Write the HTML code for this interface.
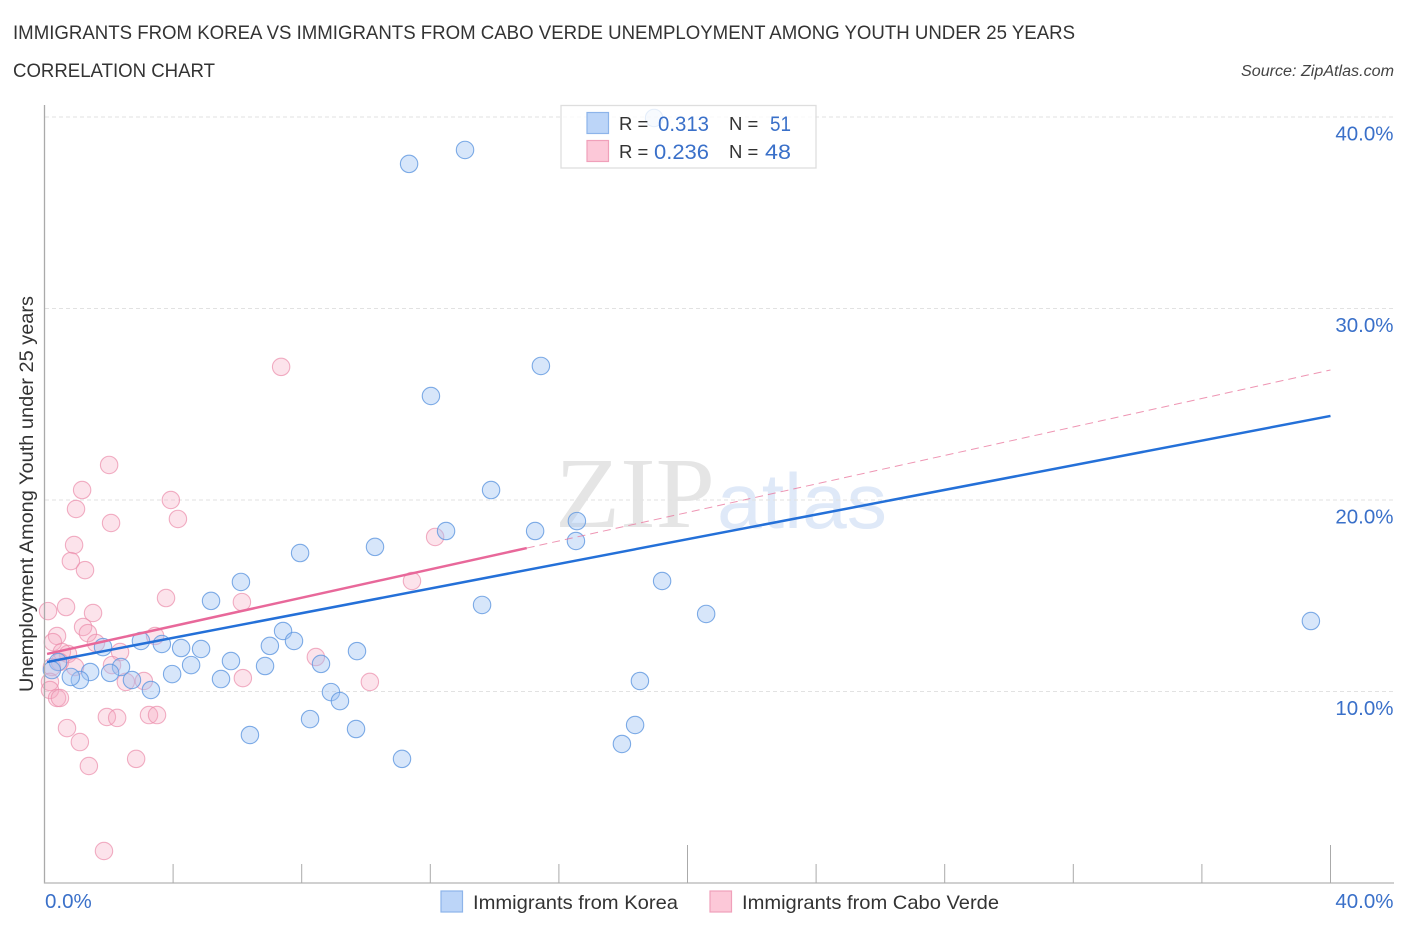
<!DOCTYPE html>
<html>
<head>
<meta charset="utf-8">
<title>Immigrants from Korea vs Immigrants from Cabo Verde Unemployment Among Youth Under 25 Years</title>
<style>
html,body{margin:0;padding:0;background:#fff;}
svg{display:block;font-family:"Liberation Sans",sans-serif;}
</style>
</head>
<body>
<svg id="chart" width="1406" height="930" viewBox="0 0 1406 930" xmlns="http://www.w3.org/2000/svg">
  <rect width="1406" height="930" fill="#fff"/>
  <text x="13" y="39" font-size="19" fill="#333" textLength="1062" lengthAdjust="spacingAndGlyphs">IMMIGRANTS FROM KOREA VS IMMIGRANTS FROM CABO VERDE UNEMPLOYMENT AMONG YOUTH UNDER 25 YEARS</text>
  <text x="13" y="77" font-size="19" fill="#333" textLength="202" lengthAdjust="spacingAndGlyphs">CORRELATION CHART</text>
  <text x="1394" y="76" font-size="15.5" font-style="italic" fill="#444" text-anchor="end" textLength="153" lengthAdjust="spacingAndGlyphs">Source: ZipAtlas.com</text>

  <g>
    <text x="555" y="527" font-family="'Liberation Serif',serif" font-size="101" fill="#e5e5e5" textLength="160" lengthAdjust="spacingAndGlyphs">ZIP</text>
    <text x="717" y="528" font-size="78" fill="#dfe9f8" textLength="170" lengthAdjust="spacingAndGlyphs">atlas</text>
  </g>

  <g id="grid"></g>
  <g id="points-pink"></g>
  <g id="points-blue"></g>
  <g id="trends"></g>
  <g id="axes"></g>
  <g id="labels"></g>

  <text transform="translate(33,494) rotate(-90)" font-size="19" fill="#333" text-anchor="middle" textLength="396" lengthAdjust="spacingAndGlyphs">Unemployment Among Youth under 25 years</text>

  <g>
    <rect x="561" y="105.5" width="255" height="62.5" fill="#fff" fill-opacity="0.8" stroke="#dedede" stroke-width="1.3"/>
    <rect x="587" y="112.5" width="21.5" height="21" fill="#bcd5f8" stroke="#8db4ea" stroke-width="1.2"/>
    <rect x="587" y="140.5" width="21.5" height="21" fill="#fcc8d8" stroke="#f0a0ba" stroke-width="1.2"/>
    <g font-size="18.5" fill="#333">
      <text x="619" y="130">R =</text>
      <text x="729" y="130">N =</text>
      <text x="619" y="158">R =</text>
      <text x="729" y="158">N =</text>
    </g>
    <g font-size="21.5" fill="#3a70c9">
      <text x="658" y="131" textLength="51" lengthAdjust="spacingAndGlyphs">0.313</text>
      <text x="770" y="131" textLength="21" lengthAdjust="spacingAndGlyphs">51</text>
      <text x="654" y="159" textLength="55" lengthAdjust="spacingAndGlyphs">0.236</text>
      <text x="765" y="159" textLength="26" lengthAdjust="spacingAndGlyphs">48</text>
    </g>
  </g>

  <g>
    <rect x="441" y="891" width="21.5" height="21" fill="#bcd5f8" stroke="#8db4ea" stroke-width="1.2"/>
    <text x="473" y="909" font-size="19.5" fill="#333" textLength="205" lengthAdjust="spacingAndGlyphs">Immigrants from Korea</text>
    <rect x="710" y="891" width="21.5" height="21" fill="#fcc8d8" stroke="#f0a0ba" stroke-width="1.2"/>
    <text x="742" y="909" font-size="19.5" fill="#333" textLength="257" lengthAdjust="spacingAndGlyphs">Immigrants from Cabo Verde</text>
  </g>
</svg>

<script>
var koreaX = [18.96,11.34,13.08,15.44,12.02,13.89,12.49,15.26,16.56,16.53,10.28,7.95,6.11,5.18,13.61,19.21,20.58,39.39,7.42,7.76,7.01,3.00,3.65,4.25,4.87,1.82,4.56,5.80,6.86,8.60,9.72,3.97,5.49,2.38,2.04,1.42,2.72,1.10,0.82,3.31,8.91,9.19,18.52,8.26,6.39,9.69,18.37,17.96,11.12,0.42,0.23];
var koreaY = [39.95,37.55,38.28,27.00,25.43,20.52,18.38,18.38,18.90,17.86,17.55,17.23,15.72,14.73,14.52,15.77,14.05,13.68,13.16,12.64,12.38,12.64,12.48,12.27,12.22,12.32,11.38,11.59,11.33,11.44,12.11,10.91,10.65,11.28,10.97,11.02,10.60,10.60,10.76,10.08,9.97,9.50,10.55,8.56,7.73,8.04,8.25,7.26,6.48,11.54,11.12];
var caboX = [7.36,2.01,1.17,0.98,3.93,4.15,2.07,0.92,0.82,1.26,12.15,11.43,3.78,6.14,0.11,0.67,1.51,1.20,1.35,0.39,0.26,1.60,3.44,2.35,0.73,0.54,2.10,0.95,0.23,8.44,3.09,2.53,0.17,6.17,10.12,0.17,0.39,0.48,1.94,2.26,3.25,3.50,0.70,1.10,2.85,1.38,1.85,0.48];
var caboY = [26.95,21.83,20.52,19.53,20.00,19.01,18.80,17.65,16.81,16.34,18.07,15.77,14.88,14.67,14.20,14.41,14.10,13.37,13.05,12.90,12.58,12.53,12.90,12.06,11.96,12.06,11.38,11.28,11.28,11.80,10.55,10.50,10.50,10.70,10.50,10.08,9.66,9.66,8.67,8.62,8.77,8.77,8.09,7.36,6.48,6.11,1.67,11.54];
var koreaTrendX = [0.08,40];
var koreaTrendY = [11.54,24.39];
var caboTrendX = [0.08,15];
var caboTrendY = [11.96,17.49];
var caboDashX = [15,40];
var caboDashY = [17.49,26.79];
var yGridValues = [10,20,30,40];
var yTickLabels = ["10.0%","20.0%","30.0%","40.0%"];
var xTickValues = [4,8,12,16,20,24,28,32,36,40];
var xMajorTicks = [20,40];
var xEdgeValues = [0,40];
var xEdgeLabels = ["0.0%","40.0%"];

var NS = 'http://www.w3.org/2000/svg';
function sx(v){ return 44.5 + v * 32.15; }
function sy(v){ return 883 - v * 19.15; }
function mk(tag, parentId, attrs){
  var el = document.createElementNS(NS, tag);
  for (var k in attrs) el.setAttribute(k, attrs[k]);
  document.getElementById(parentId).appendChild(el);
  return el;
}

yGridValues.forEach(function(v, i){
  var g = mk('line', 'grid', {x1:45, x2:1394, y1:sy(v), y2:sy(v), stroke:'#e2e2e2', 'stroke-width':1, 'stroke-dasharray':'4 3'});
  
  
  var t = mk('text', 'labels', {x:1393.5, y:sy(v) + 23.5, 'font-size':20.5, fill:'#3a70c9', 'text-anchor':'end'});
  t.textContent = yTickLabels[i];
  
  
});

caboX.forEach(function(v, i){
  var c = mk('circle', 'points-pink', {cx:sx(v), cy:sy(caboY[i]), r:8.7, fill:'#f7a8c0', 'fill-opacity':0.32, stroke:'#eb8dab', 'stroke-opacity':0.7, 'stroke-width':1.1});
  
  
});

koreaX.forEach(function(v, i){
  var c = mk('circle', 'points-blue', {cx:sx(v), cy:sy(koreaY[i]), r:8.7, fill:'#9fc3f2', 'fill-opacity':0.42, stroke:'#5f97e0', 'stroke-opacity':0.8, 'stroke-width':1.1});
  
  
});

var dashLine = mk('line', 'trends', {x1:sx(caboDashX[0]), y1:sy(caboDashY[0]), x2:sx(caboDashX[1]), y2:sy(caboDashY[1]), stroke:'#e8729a', 'stroke-width':1, 'stroke-opacity':0.75, 'stroke-dasharray':'8 5'});



var blueLine = mk('line', 'trends', {x1:sx(koreaTrendX[0]), y1:sy(koreaTrendY[0]), x2:sx(koreaTrendX[1]), y2:sy(koreaTrendY[1]), stroke:'#2470d8', 'stroke-width':2.5});



var pinkLine = mk('line', 'trends', {x1:sx(caboTrendX[0]), y1:sy(caboTrendY[0]), x2:sx(caboTrendX[1]), y2:sy(caboTrendY[1]), stroke:'#e8689a', 'stroke-width':2.5});



var yAxis = mk('line', 'axes', {x1:44.5, x2:44.5, y1:105, y2:883.5, stroke:'#aaaaaa', 'stroke-width':1.3});



var xAxis = mk('line', 'axes', {x1:44, x2:1394, y1:883, y2:883, stroke:'#b5b5b5', 'stroke-width':1.3});



xTickValues.forEach(function(v){
  var top = xMajorTicks.indexOf(v) >= 0 ? 845 : 864;
  var t = mk('line', 'axes', {x1:sx(v), x2:sx(v), y1:top, y2:883, stroke:'#aaaaaa', 'stroke-width':1});
  
  
});

xEdgeValues.forEach(function(v, i){
  var isFirst = i === 0;
  var t = mk('text', 'labels', {x:isFirst ? sx(v) + 0.5 : 1393.5, y:908, 'font-size':20.5, fill:'#3a70c9', 'text-anchor':isFirst ? 'start' : 'end'});
  t.textContent = xEdgeLabels[i];
  
  
});
</script>
</body>
</html>
